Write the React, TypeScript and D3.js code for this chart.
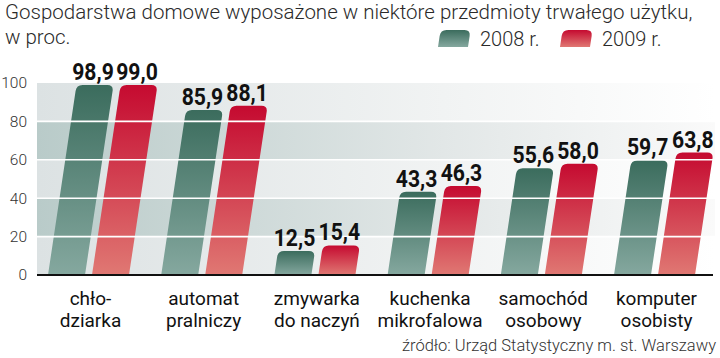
import React from "react";
import * as d3 from "d3";

const categories = [
  ["chło-", "dziarka"],
  ["automat", "pralniczy"],
  ["zmywarka", "do naczyń"],
  ["kuchenka", "mikrofalowa"],
  ["samochód", "osobowy"],
  ["komputer", "osobisty"],
];
const series = ["2008 r.", "2009 r."];
const values2008 = [98.9, 85.9, 12.5, 43.3, 55.6, 59.7];
const values2009 = [99.0, 88.1, 15.4, 46.3, 58.0, 63.8];
const yTicks = [0, 20, 40, 60, 80, 100];
const titleLines = [
  "Gospodarstwa domowe wyposażone w niektóre przedmioty trwałego użytku,",
  "w proc.",
];
const sourceText = "źródło: Urząd Statystyczny m. st. Warszawy";

const W = 720;
const H = 358;
const plotLeft = 37;
const plotRight = 715;
const SKEW = 0.15;
const R = 6;

const fmt = (v: number) => v.toFixed(1).replace(".", ",");

function barPath(x0: number, y0: number, w: number, h: number) {
  const r = Math.min(R, h / 2);
  const top = y0 - h;
  const tl = x0 + SKEW * h;
  const tr = x0 + w + SKEW * h;
  return [
    `M${x0},${y0}`,
    `L${x0 + w},${y0}`,
    `L${x0 + w + SKEW * (h - r)},${top + r}`,
    `Q${tr},${top} ${tr - r},${top}`,
    `L${tl + r},${top}`,
    `Q${tl},${top} ${x0 + SKEW * (h - r)},${top + r}`,
    "Z",
  ].join(" ");
}

export default function App() {
  const x = d3
    .scalePoint<string>()
    .domain(categories.map((c) => c.join(" ")))
    .range([88.5, 654.5]);
  const xs = d3
    .scaleBand<string>()
    .domain(series)
    .range([-40.5, 40.5])
    .paddingInner(7 / 44);
  const y = d3.scaleLinear().domain([0, 100]).range([275, 83]);
  const bands = d3.pairs(yTicks);
  const data = [values2008, values2009];
  const fills = ["url(#gGreen)", "url(#gRed)"];
  const SX = 0.9;

  return (
    <svg width={W} height={H} style={{ display: "block", position: "absolute", left: 0, top: 0 }}>
      <defs>
        <linearGradient id="gGreen" x1="0" y1="0" x2="0" y2="1">
          <stop offset="0" stopColor="#3b6c5d" />
          <stop offset="1" stopColor="#85a89f" />
        </linearGradient>
        <linearGradient id="gRed" x1="0" y1="0" x2="0" y2="1">
          <stop offset="0" stopColor="#c50a30" />
          <stop offset="1" stopColor="#e07873" />
        </linearGradient>
        <linearGradient id="bgDark" x1="0" y1="0" x2="1" y2="0">
          <stop offset="0" stopColor="#b9cbc9" />
          <stop offset="0.6" stopColor="#e2e7e7" />
          <stop offset="1" stopColor="#fafafa" />
        </linearGradient>
        <linearGradient id="bgLight" x1="0" y1="0" x2="1" y2="0">
          <stop offset="0" stopColor="#dce2e3" />
          <stop offset="0.6" stopColor="#f1f3f3" />
          <stop offset="1" stopColor="#ffffff" />
        </linearGradient>
      </defs>
      <rect width={W} height={H} fill="#ffffff" />

      {/* title */}
      <g fontFamily="Roboto" fontWeight={300} fontSize={20.5} fill="#2a2a2a">
        <text x={5} y={19}>{titleLines[0]}</text>
        <text x={5} y={44}>{titleLines[1]}</text>
      </g>

      {/* legend */}
      {series.map((s, i) => {
        const lx = 438 + i * 122;
        return (
          <g key={s}>
            <path d={barPath(lx, 47, 30, 17)} fill={fills[i]} />
            <text x={lx + 42} y={46} fontFamily="Roboto" fontWeight={300} fontSize={20} fill="#2a2a2a">
              {s}
            </text>
          </g>
        );
      })}

      {/* background bands */}
      {bands.map(([a, b], i) => (
        <rect
          key={a}
          x={plotLeft}
          y={y(b)}
          width={plotRight - plotLeft}
          height={y(a) - y(b)}
          fill={i % 2 === 1 ? "url(#bgDark)" : "url(#bgLight)"}
        />
      ))}

      {/* bars */}
      {categories.map((c, ci) => {
        const key = c.join(" ");
        return (
          <g key={key}>
            {series.map((s, si) => {
              const v = data[si][ci];
              const x0 = (x(key) as number) + (xs(s) as number);
              const h = y(0) - y(v);
              return <path key={s} d={barPath(x0, y(0), xs.bandwidth(), h)} fill={fills[si]} />;
            })}
          </g>
        );
      })}

      {/* gridlines */}
      {yTicks.filter((t) => t > 0 && t < 100).map((t) => (
        <line key={t} x1={plotLeft} x2={plotRight} y1={y(t)} y2={y(t)} stroke="#ffffff" strokeWidth={1.6} />
      ))}
      <line x1={plotLeft} x2={713} y1={y(0)} y2={y(0)} stroke="#111" strokeWidth={2} />

      {/* value labels */}
      {categories.map((c, ci) => {
        const key = c.join(" ");
        return series.map((s, si) => {
          const v = data[si][ci];
          const h = y(0) - y(v);
          const cx = (x(key) as number) + (xs(s) as number) + xs.bandwidth() / 2 + SKEW * h - 2;
          return (
            <text
              key={key + s}
              transform={`translate(${cx},${y(v) - 5}) scale(${SX},1)`}
              textAnchor="middle"
              fontFamily="Roboto"
              fontWeight={700}
              fontSize={23.5}
              fill="#111"
            >
              {fmt(v)}
            </text>
          );
        });
      })}

      {/* y tick labels */}
      {yTicks.map((t) => (
        <text
          key={t}
          x={27}
          y={y(t)}
          dy="0.35em"
          textAnchor="end"
          fontFamily="Roboto"
          fontWeight={300}
          fontSize={15.5}
          fill="#333"
        >
          {t}
        </text>
      ))}

      {/* category labels */}
      {categories.map((c) => {
        const key = c.join(" ");
        return (
          <text
            key={key}
            textAnchor="middle"
            fontFamily="Roboto"
            fontSize={19}
            fill="#111"
          >
            {c.map((line, li) => (
              <tspan key={li} x={(x(key) as number) + 2} y={305 + li * 21.5}>
                {line}
              </tspan>
            ))}
          </text>
        );
      })}

      {/* source */}
      <text x={716} y={351} textAnchor="end" fontFamily="Roboto" fontWeight={300} fontSize={16.5} fill="#333">
        {sourceText}
      </text>
    </svg>
  );
}
